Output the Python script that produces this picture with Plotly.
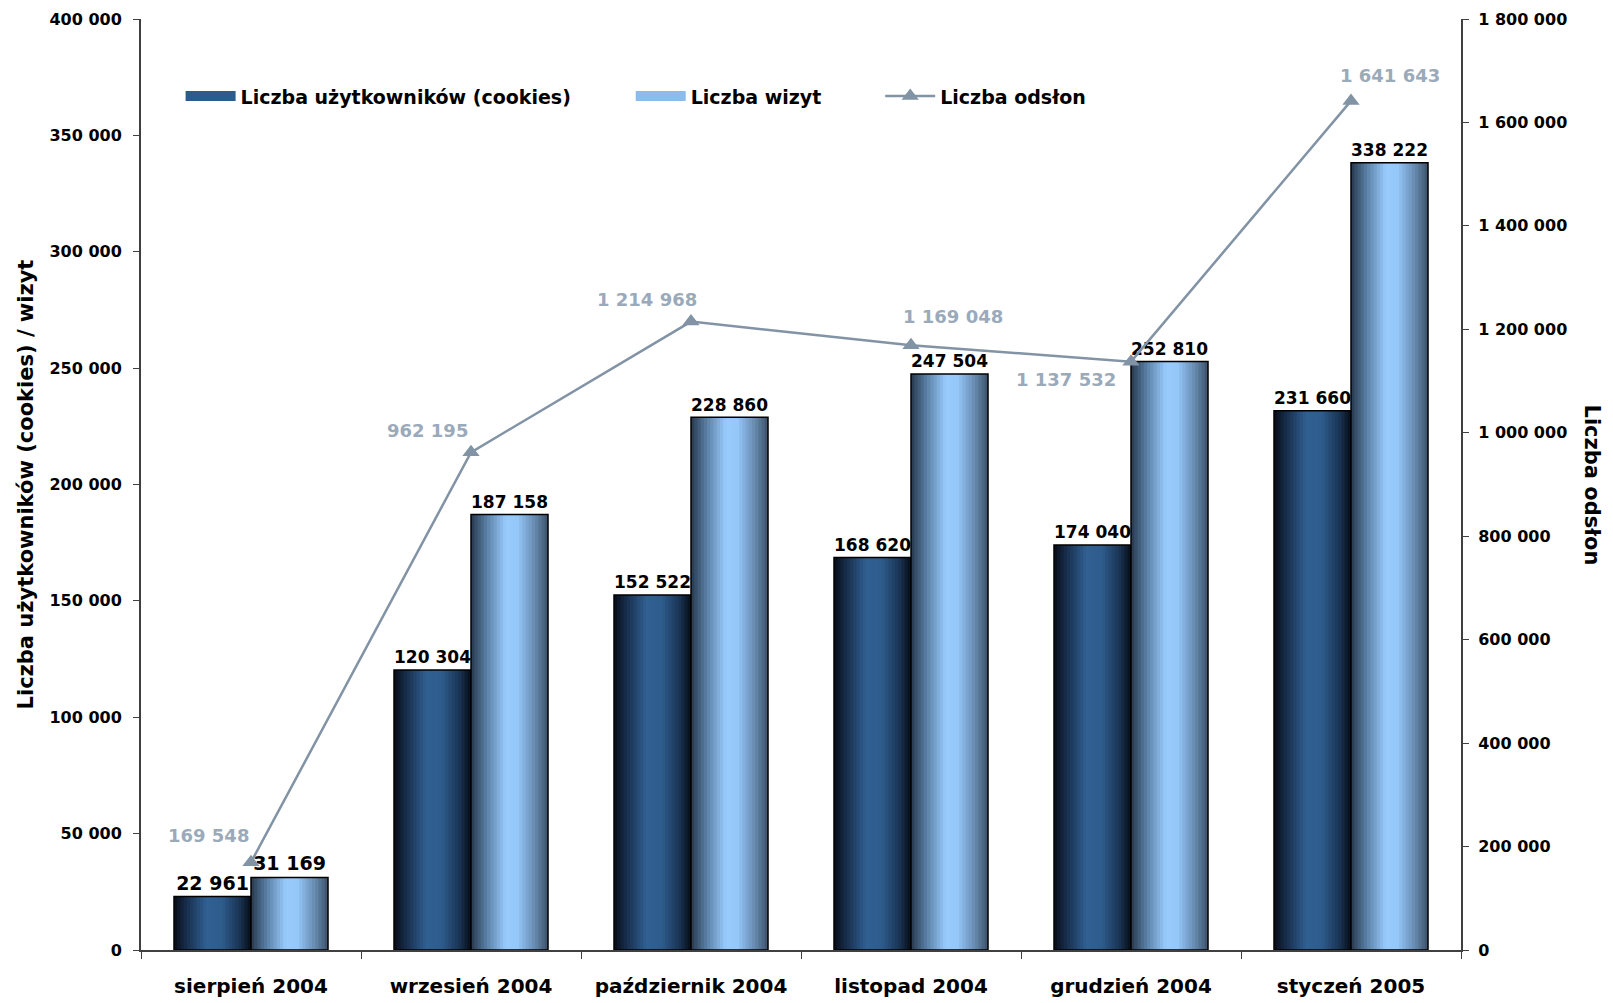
import plotly.graph_objects as go

# ---------------- data ----------------
categories = ["sierpień 2004", "wrzesień 2004", "październik 2004",
              "listopad 2004", "grudzień 2004", "styczeń 2005"]
users = [22961, 120304, 152522, 168620, 174040, 231660]
visits = [31169, 187158, 228860, 247504, 252810, 338222]
pageviews = [169548, 962195, 1214968, 1169048, 1137532, 1641643]

series_names = ["Liczba użytkowników (cookies)", "Liczba wizyt", "Liczba odsłon"]
left_title = "Liczba użytkowników (cookies) / wizyt"
right_title = "Liczba odsłon"

# ---------------- style ----------------
FONT = "DejaVu Sans"
LINE_COLOR = "#8193a5"
LABEL_GREY = "#9aaaba"
AXIS_COLOR = "#404040"
BAR_W = 0.35
N_SLICES = 24

DARK_STOPS = [(0.0, (6, 12, 22)), (0.15, (22, 44, 72)), (0.42, (48, 96, 146)),
              (0.62, (46, 92, 140)), (0.85, (26, 52, 84)), (1.0, (6, 12, 22))]
LIGHT_STOPS = [(0.0, (40, 56, 76)), (0.18, (84, 120, 156)), (0.45, (152, 202, 252)),
               (0.6, (150, 200, 250)), (0.85, (98, 132, 168)), (1.0, (60, 80, 104))]

# offsets (px) of the line-value labels relative to their points
line_label_shift = [(-43, 27), (-44, 22), (-44, 22), (42, 29), (-65, -18), (39, 25)]


def interp(stops, t):
    for (t0, c0), (t1, c1) in zip(stops, stops[1:]):
        if t0 <= t <= t1:
            f = (t - t0) / (t1 - t0) if t1 > t0 else 0
            return "rgb(%d,%d,%d)" % tuple(round(a + (b - a) * f) for a, b in zip(c0, c1))
    return "rgb(%d,%d,%d)" % stops[-1][1]


fig = go.Figure()

for values, off0, stops in [(users, -BAR_W, DARK_STOPS), (visits, 0.0, LIGHT_STOPS)]:
    sw = BAR_W / N_SLICES
    for k in range(N_SLICES):
        t = (k + 0.5) / N_SLICES
        w = sw * 1.25 if k < N_SLICES - 1 else sw
        fig.add_trace(go.Bar(
            x=categories, y=values, offset=off0 + k * sw, width=w,
            marker=dict(color=interp(stops, t), line=dict(width=0)),
            showlegend=False, hoverinfo="skip"))
    fig.add_trace(go.Bar(
        x=categories, y=values, offset=off0, width=BAR_W,
        marker=dict(color="rgba(0,0,0,0)", line=dict(color="black", width=1.5)),
        texttemplate="%{y:,}", textposition="outside", cliponaxis=False,
        textfont=dict(family=FONT, size=19, color="black", weight="bold"),
        showlegend=False))

# legend proxies for the bars
fig.add_trace(go.Scatter(x=categories, y=[None] * len(categories), mode="lines",
                         line=dict(color="#2c5c8e", width=13), name=series_names[0],
                         legend="legend"))
fig.add_trace(go.Scatter(x=categories, y=[None] * len(categories), mode="lines",
                         line=dict(color="#8cbcec", width=13), name=series_names[1],
                         legend="legend2"))

# page views line
fig.add_trace(go.Scatter(
    x=categories, y=pageviews, yaxis="y2", mode="lines+markers",
    line=dict(color=LINE_COLOR, width=2.5),
    marker=dict(symbol="triangle-up", size=15, color=LINE_COLOR),
    name=series_names[2], legend="legend3", cliponaxis=False))

for c, v, (dx, dy) in zip(categories, pageviews, line_label_shift):
    fig.add_annotation(x=c, y=v, yref="y2", text=f"{v:,}".replace(",", " "),
                       showarrow=False, xshift=dx, yshift=dy,
                       font=dict(family=FONT, size=18, color=LABEL_GREY, weight="bold"))

fig.add_annotation(x=1, xref="paper", y=0.5, yref="paper", text=right_title,
                   textangle=90, showarrow=False, xanchor="center", yanchor="middle",
                   xshift=131, font=dict(family=FONT, size=21, color="black", weight="bold"))

legend_common = dict(orientation="h", yanchor="middle", xanchor="left", y=0.917,
                     bgcolor="rgba(0,0,0,0)", itemwidth=50,
                     font=dict(family=FONT, size=19, color="black", weight="bold"))

# the page body adds an 8px offset, so margins are compensated
fig.update_layout(
    width=1613, height=1003,
    margin=dict(l=133, r=160, t=11, b=61, autoexpand=False),
    paper_bgcolor="white", plot_bgcolor="white",
    barmode="overlay", separators=", ",
    font=dict(family=FONT, color="black"),
    xaxis=dict(type="category", range=[-0.5, 5.5], showline=True, linecolor=AXIS_COLOR,
               linewidth=2, ticks="outside", tickson="boundaries", ticklen=7,
               tickcolor=AXIS_COLOR, showgrid=False, ticklabelstandoff=17, automargin=False,
               ticklabeloverflow="allow",
               tickfont=dict(family=FONT, size=20, weight="bold", color="black")),
    yaxis=dict(range=[0, 400000], dtick=50000, tickformat=",", showline=True,
               linecolor=AXIS_COLOR, linewidth=2, ticks="outside", ticklen=6,
               tickcolor=AXIS_COLOR, showgrid=False, zeroline=False, ticklabelstandoff=8,
               automargin=False, ticklabeloverflow="allow",
               tickfont=dict(family=FONT, size=16, weight="bold", color="black"),
               title=dict(text=left_title, standoff=10,
                          font=dict(family=FONT, size=21, weight="bold", color="black"))),
    yaxis2=dict(overlaying="y", side="right", range=[0, 1800000], dtick=200000,
                tickformat=",", showline=True, linecolor=AXIS_COLOR, linewidth=2,
                ticks="outside", ticklen=6, tickcolor=AXIS_COLOR, showgrid=False,
                zeroline=False, ticklabelstandoff=6, automargin=False,
                ticklabeloverflow="allow",
                tickfont=dict(family=FONT, size=16, weight="bold", color="black")),
    legend=dict(legend_common, x=0.030),
    legend2=dict(legend_common, x=0.371),
    legend3=dict(legend_common, x=0.560),
)

fig.write_html("out.html")
